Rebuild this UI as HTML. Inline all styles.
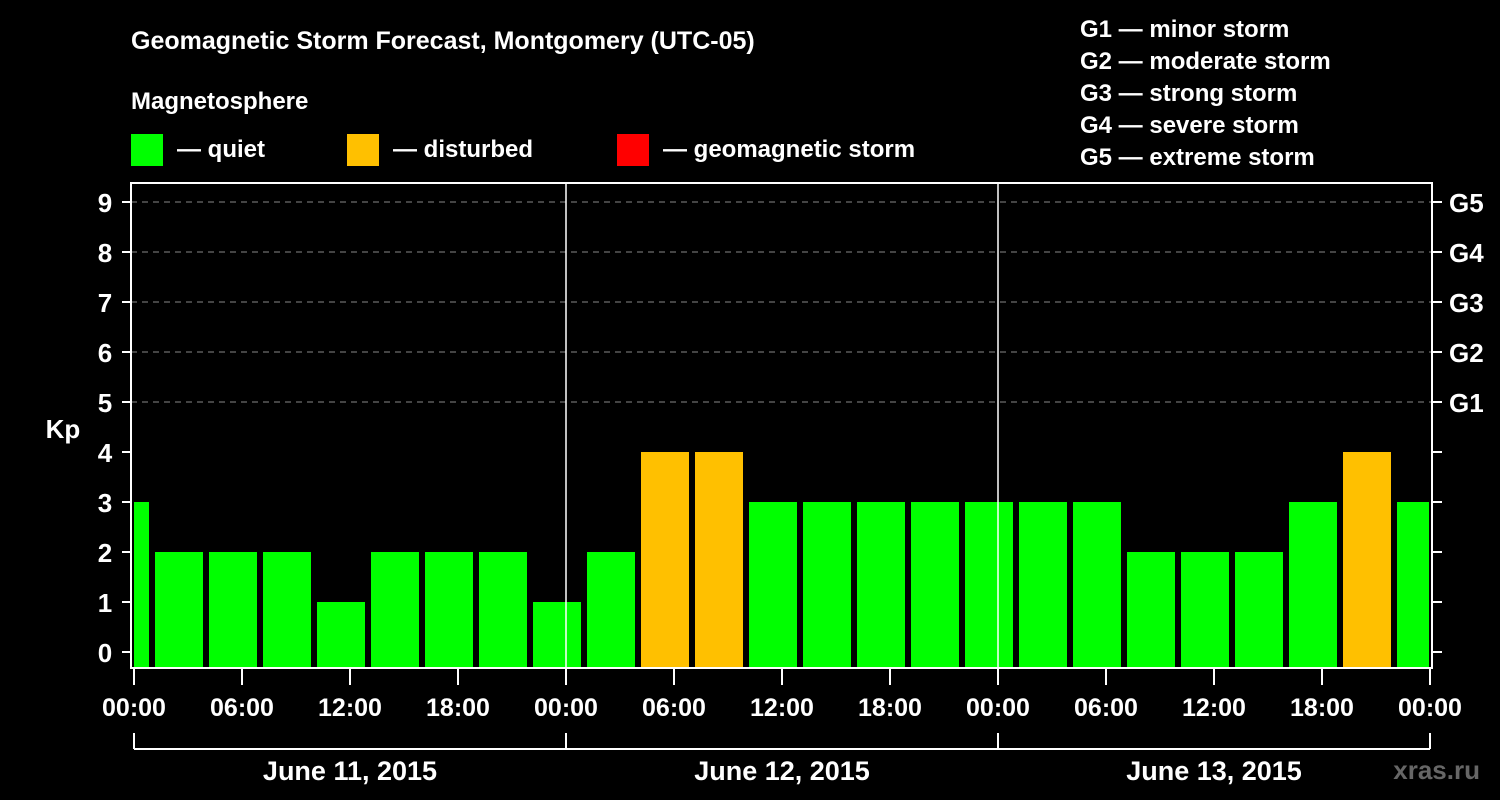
<!DOCTYPE html>
<html><head><meta charset="utf-8"><style>
html,body{margin:0;padding:0;background:#000;}
svg{display:block;font-family:"Liberation Sans",Arial,sans-serif;font-weight:bold;}
</style></head><body>
<svg id="c" width="1500" height="800" viewBox="0 0 1500 800">
<rect width="1500" height="800" fill="#000"/>
<text x="131" y="49" fill="#fff" font-size="25">Geomagnetic Storm Forecast, Montgomery (UTC-05)</text>
<text x="131" y="109" fill="#fff" font-size="24">Magnetosphere</text>
<g><rect x="131" y="134" width="32" height="32" fill="#00ff00"/><text x="177" y="157" fill="#fff" font-size="24">— quiet</text></g>
<g><rect x="347" y="134" width="32" height="32" fill="#ffc000"/><text x="393" y="157" fill="#fff" font-size="24">— disturbed</text></g>
<g><rect x="617" y="134" width="32" height="32" fill="#ff0000"/><text x="663" y="157" fill="#fff" font-size="24">— geomagnetic storm</text></g>
<g fill="#fff" font-size="24">
<text x="1080" y="37">G1 — minor storm</text>
<text x="1080" y="69">G2 — moderate storm</text>
<text x="1080" y="101">G3 — strong storm</text>
<text x="1080" y="133">G4 — severe storm</text>
<text x="1080" y="165">G5 — extreme storm</text>
</g>
<text x="63" y="438" fill="#fff" font-size="26" text-anchor="middle">Kp</text>
<text x="1480" y="779" fill="#666" font-size="26" text-anchor="end">xras.ru</text>
<g id="g"></g>
</svg>
<script>
const kpValues=[3,2,2,2,1,2,2,2,1,2,4,4,3,3,3,3,3,3,3,2,2,2,3,4,3];
const barCenterHours=[-0.5,2.5,5.5,8.5,11.5,14.5,17.5,20.5,23.5,26.5,29.5,32.5,35.5,38.5,41.5,44.5,47.5,50.5,53.5,56.5,59.5,62.5,65.5,68.5,71.5];
const dayLabels=["June 11, 2015","June 12, 2015","June 13, 2015"];
const timeTicks=["00:00","06:00","12:00","18:00"];
const gLabels=["G1","G2","G3","G4","G5"];
const NS="http://www.w3.org/2000/svg";
const g=document.getElementById('g');
const X0=134,PX_H=18,PL=131,PR=1432,PT=183,PB=668;
const xs=h=>X0+h*PX_H;
const ys=v=>652-v*50;
function mk(t,a,p){const e=document.createElementNS(NS,t);for(const k in a)e.setAttribute(k,a[k]);(p||g).appendChild(e);return e;}
// grid
for(let v=5;v<=9;v++){const l=mk('line',{x1:PL,x2:PR,y1:ys(v),y2:ys(v),stroke:'#888','stroke-width':1,'stroke-dasharray':'6,5'});

}
// bars
kpValues.forEach((v,i)=>{const c=xs(barCenterHours[i]);let x1=Math.max(c-24,PL+3),x2=Math.min(c+24,PR-3);
const col=v>=5?'#ff0000':(v>=4?'#ffc000':'#00ff00');
const r=mk('rect',{x:x1,y:ys(v),width:x2-x1,height:PB-ys(v),fill:col});

});
// day lines
for(let d=1;d<3;d++){const l=mk('line',{x1:xs(d*24),x2:xs(d*24),y1:PT,y2:PB,stroke:'#fff','stroke-width':1.5});

}
// frame
const f=mk('rect',{x:PL,y:PT,width:PR-PL,height:PB-PT,fill:'none',stroke:'#fff','stroke-width':2});


// y ticks
for(let v=0;v<=9;v++){const y=ys(v);
mk('line',{x1:PL-9,x2:PL,y1:y,y2:y,stroke:'#fff','stroke-width':2});
mk('line',{x1:PR,x2:PR+10,y1:y,y2:y,stroke:'#fff','stroke-width':2});
const t=mk('text',{x:105,y:y+10,fill:'#fff','font-size':26,'text-anchor':'middle'});t.textContent=v;


if(v>=5){const gt=mk('text',{x:1449,y:y+10,fill:'#fff','font-size':26});gt.textContent=gLabels[v-5];

}}
// x ticks
for(let h=0;h<=72;h+=6){const x=xs(h);
mk('line',{x1:x,x2:x,y1:PB,y2:685,stroke:'#fff','stroke-width':2});
const t=mk('text',{x:x,y:716,fill:'#fff','font-size':25,'text-anchor':'middle'});t.textContent=timeTicks[(h/6)%4];

}
// day bracket
mk('line',{x1:xs(0),x2:xs(72),y1:749,y2:749,stroke:'#fff','stroke-width':2});
for(let d=0;d<=3;d++)mk('line',{x1:xs(d*24),x2:xs(d*24),y1:733,y2:749,stroke:'#fff','stroke-width':2});
dayLabels.forEach((s,d)=>{const t=mk('text',{x:xs(d*24+12),y:780,fill:'#fff','font-size':27,'text-anchor':'middle'});t.textContent=s;

});
</script>
</body></html>
